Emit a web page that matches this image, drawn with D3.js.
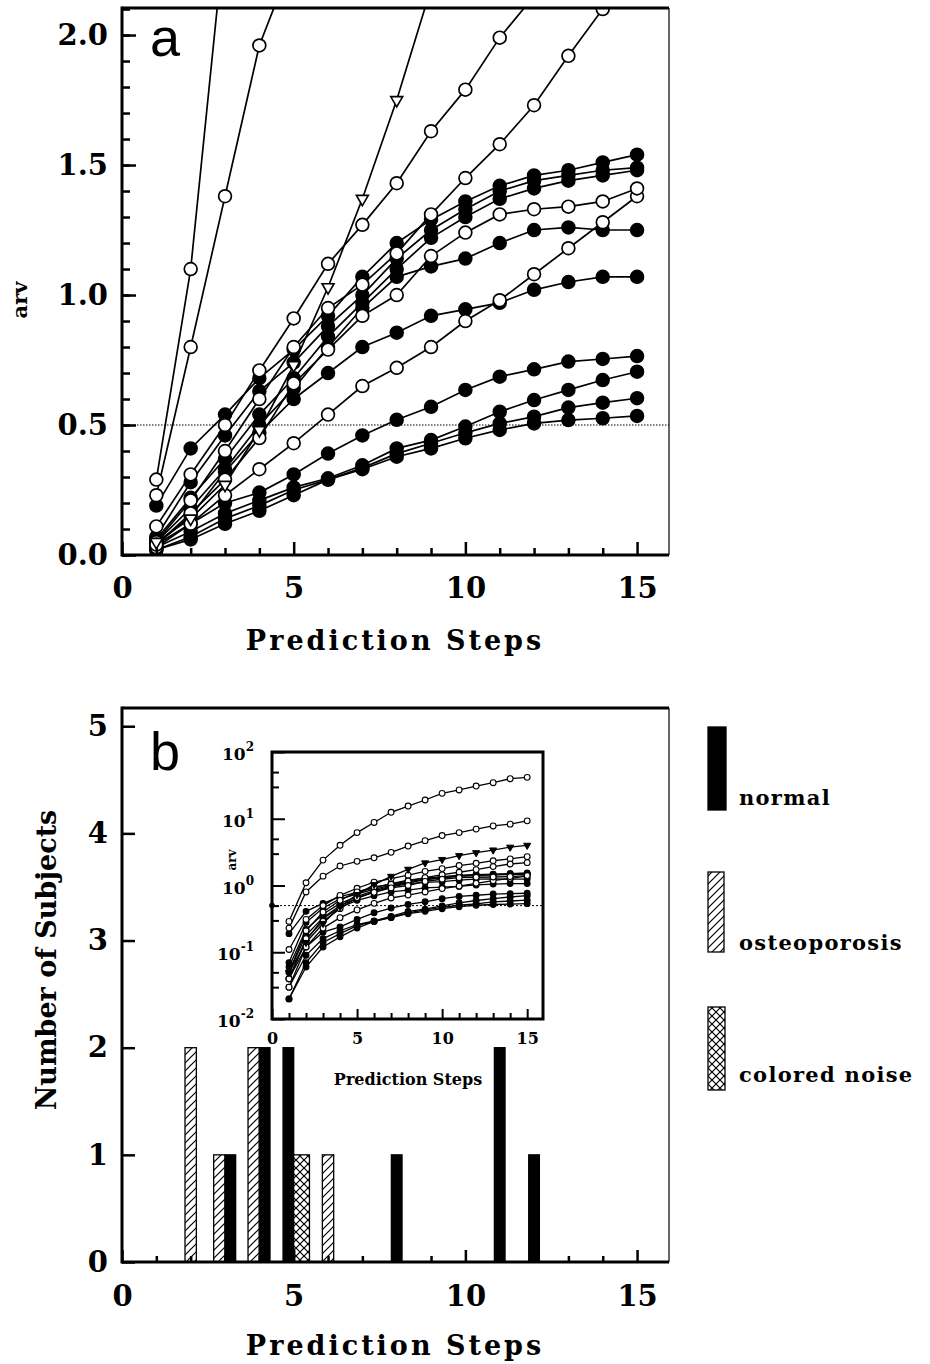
<!DOCTYPE html>
<html>
<head>
<meta charset="utf-8">
<script src="https://cdn.jsdelivr.net/npm/d3@7"></script>
<style>
    body { margin: 0; background: #fff; }
</style>
</head>
<body>
<div id="chart"></div>
<script>
const steps = d3.range(1, 16);

// normal subjects, filled circles
const normal1 = [0.19, 0.41, 0.54, 0.68, 0.79, 0.92, 1.07, 1.20, 1.29, 1.36, 1.42, 1.46, 1.48, 1.51, 1.54];
const normal2 = [0.07, 0.28, 0.46, 0.63, 0.74, 0.88, 1.00, 1.14, 1.25, 1.33, 1.40, 1.44, 1.46, 1.48, 1.49];
const normal3 = [0.06, 0.22, 0.37, 0.54, 0.68, 0.84, 0.97, 1.10, 1.22, 1.30, 1.37, 1.41, 1.44, 1.46, 1.48];
const normal4 = [0.05, 0.18, 0.33, 0.50, 0.64, 0.80, 0.95, 1.07, 1.11, 1.14, 1.20, 1.25, 1.26, 1.25, 1.25];
const normal5 = [0.04, 0.15, 0.32, 0.47, 0.60, 0.70, 0.80, 0.855, 0.92, 0.945, 0.97, 1.02, 1.05, 1.07, 1.07];
const normal6 = [0.04, 0.12, 0.20, 0.24, 0.31, 0.39, 0.46, 0.52, 0.57, 0.635, 0.686, 0.714, 0.744, 0.754, 0.765];
const normal7 = [0.03, 0.09, 0.16, 0.21, 0.26, 0.295, 0.345, 0.41, 0.442, 0.494, 0.551, 0.596, 0.635, 0.673, 0.705];
const normal8 = [0.02, 0.07, 0.14, 0.19, 0.25, 0.29, 0.335, 0.39, 0.43, 0.47, 0.506, 0.532, 0.567, 0.586, 0.603];
const normal9 = [0.02, 0.06, 0.12, 0.17, 0.23, 0.29, 0.33, 0.378, 0.41, 0.449, 0.481, 0.506, 0.519, 0.526, 0.535];

// osteoporosis, open circles
const osteo1 = [0.29, 1.10, 2.40, 4.0, 6.2, 8.8, 12.5, 15.5, 19.1, 24.0, 27.0, 30.9, 34.7, 39.8, 41.7];
const osteo2 = [0.23, 0.80, 1.38, 1.96, 2.30, 2.6, 3.14, 3.9, 4.7, 5.6, 6.2, 7.0, 7.8, 8.3, 9.3];
const osteo3 = [0.11, 0.31, 0.50, 0.71, 0.91, 1.12, 1.27, 1.43, 1.63, 1.79, 1.99, 2.15, 2.35, 2.5, 2.7];
const osteo4 = [0.05, 0.21, 0.40, 0.60, 0.80, 0.95, 1.04, 1.16, 1.31, 1.45, 1.58, 1.73, 1.92, 2.10, 2.2];
const osteo5 = [0.03, 0.12, 0.23, 0.33, 0.43, 0.54, 0.65, 0.72, 0.80, 0.90, 0.98, 1.08, 1.18, 1.28, 1.38];
const osteo6 = [0.04, 0.16, 0.29, 0.45, 0.66, 0.79, 0.92, 1.00, 1.15, 1.24, 1.31, 1.33, 1.34, 1.36, 1.41];

// colored noise, triangles
const noise1 = [0.05, 0.14, 0.27, 0.48, 0.73, 1.03, 1.37, 1.75, 2.18, 2.45, 2.8, 3.1, 3.4, 3.75, 4.0];

// histogram: number of subjects per prediction step
const histOsteo = [0, 2, 1, 2, 0, 1, 0, 0, 0, 0, 0, 0, 0, 0, 0];
const histNormal = [0, 0, 1, 2, 2, 0, 0, 1, 0, 0, 2, 1, 0, 0, 0];
const histNoise = [0, 0, 0, 0, 1, 0, 0, 0, 0, 0, 0, 0, 0, 0, 0];

const stepTicks = [0, 5, 10, 15];
const arvTicks = [0, 0.5, 1, 1.5, 2];
const subjectTicks = [0, 1, 2, 3, 4, 5];
const insetDecades = [0.01, 0.1, 1, 10, 100];
const legendLabels = ['normal', 'osteoporosis', 'colored noise'];

const serif = '"DejaVu Serif", "Liberation Serif", serif';

const series = []
    .concat(normalSeries())
    .concat([osteo1, osteo2, osteo3, osteo4, osteo5, osteo6].map(v => ({ kind: 'osteo', values: v })))
    .concat([noise1].map(v => ({ kind: 'noise', values: v })));

function normalSeries() {
    return [normal1, normal2, normal3, normal4, normal5, normal6, normal7, normal8, normal9]
        .map(v => ({ kind: 'normal', values: v }));
}

const svg = d3.select('#chart')
    .append('svg')
    .attr('width', 930)
    .attr('height', 1364)
    .style('display', 'block');

const defs = svg.append('defs');

const hatch = defs.append('pattern')
    .attr('id', 'hatch')
    .attr('patternUnits', 'userSpaceOnUse')
    .attr('width', 8).attr('height', 8);
hatch.append('rect').attr('width', 8).attr('height', 8).attr('fill', '#fff');
hatch.append('path')
    .attr('d', 'M0,8 L8,0 M-2,2 L2,-2 M6,10 L10,6')
    .attr('stroke', '#000').attr('stroke-width', 1.2);

const cross = defs.append('pattern')
    .attr('id', 'cross')
    .attr('patternUnits', 'userSpaceOnUse')
    .attr('width', 8).attr('height', 8);
cross.append('rect').attr('width', 8).attr('height', 8).attr('fill', '#fff');
cross.append('path')
    .attr('d', 'M0,0 L8,8 M0,8 L8,0')
    .attr('stroke', '#000').attr('stroke-width', 1.2);

defs.append('clipPath').attr('id', 'clipA')
    .append('rect').attr('x', 122).attr('y', 8).attr('width', 547).attr('height', 547);

function frame(g, x0, x1, y0, y1) {
    g.append('line').attr('x1', x0).attr('x2', x0).attr('y1', y0 - 1.5).attr('y2', y1 + 1.5)
        .attr('stroke', '#000').attr('stroke-width', 3);
    g.append('line').attr('x1', x0).attr('x2', x1).attr('y1', y1).attr('y2', y1)
        .attr('stroke', '#000').attr('stroke-width', 3);
    g.append('line').attr('x1', x0).attr('x2', x1).attr('y1', y0).attr('y2', y0)
        .attr('stroke', '#000').attr('stroke-width', 3);
    g.append('line').attr('x1', x1).attr('x2', x1).attr('y1', y0).attr('y2', y1)
        .attr('stroke', '#000').attr('stroke-width', 1.2);
}

function styleAxis(g, width, fontSize, weight) {
    g.select('.domain').remove();
    g.selectAll('.tick line').attr('stroke', '#000').attr('stroke-width', width);
    g.selectAll('.tick text')
        .attr('fill', '#000')
        .attr('font-family', serif)
        .attr('font-size', fontSize)
        .attr('font-weight', weight);
}

function minorTicks(max) {
    return d3.range(0, max + 0.001, 1).filter(d => d % 5 != 0);
}

function drawMarker(sel, kind, r, small) {
    sel.each(function (d) {
        const g = d3.select(this);
        if (kind == 'noise') {
            g.append('path')
                .attr('d', d3.symbol(d3.symbolTriangle).size(small ? 22 : 62)())
                .attr('transform', 'rotate(180)')
                .attr('fill', small ? '#000' : '#fff')
                .attr('stroke', '#000')
                .attr('stroke-width', small ? 1 : 1.6);
        } else {
            g.append('circle')
                .attr('r', r)
                .attr('fill', kind == 'normal' ? '#000' : '#fff')
                .attr('stroke', '#000')
                .attr('stroke-width', small ? 1.1 : 1.7);
        }
    });
}

// ---------------- panel a ----------------
function CreatePanelA() {
    const x = d3.scaleLinear().domain([0, 15.93]).range([122, 669]);
    const y = d3.scaleLinear().domain([0, 2.104]).range([555, 8]);

    const g = svg.append('g');

    g.append('line')
        .attr('x1', x(0)).attr('x2', x(15.93))
        .attr('y1', y(0.5)).attr('y2', y(0.5))
        .attr('stroke', '#000').attr('stroke-width', 1.1)
        .attr('stroke-dasharray', '1.5,1.5');

    const plot = g.append('g').attr('clip-path', 'url(#clipA)');
    const line = d3.line().x((d, i) => x(steps[i])).y(d => y(d));

    plot.selectAll('path.series')
        .data(series)
        .join('path')
        .attr('class', 'series')
        .attr('d', d => line(d.values))
        .attr('fill', 'none')
        .attr('stroke', '#000')
        .attr('stroke-width', 1.7);

    series.forEach(s => {
        plot.append('g')
            .selectAll('g')
            .data(s.values.map((v, i) => ({ step: steps[i], v: v })).filter(d => d.v < 2.3))
            .join('g')
            .attr('transform', d => `translate(${x(d.step)},${y(d.v)})`)
            .call(drawMarker, s.kind, 6.4, false);
    });

    frame(g, 122, 669, 8, 555);

    g.append('g').attr('transform', 'translate(0,555)')
        .call(d3.axisBottom(x).tickValues(minorTicks(15)).tickSize(-7).tickFormat(''))
        .call(styleAxis, 2.5, 0, 'normal');
    g.append('g').attr('transform', 'translate(0,555)')
        .call(d3.axisBottom(x).tickValues(stepTicks).tickSize(-13).tickPadding(22).tickFormat(d3.format('d')))
        .call(styleAxis, 2.5, 29, 'bold');

    g.append('g').attr('transform', 'translate(122,0)')
        .call(d3.axisLeft(y).tickValues(d3.range(0, 2.101, 0.1)).tickSize(-8).tickFormat(''))
        .call(styleAxis, 2.5, 0, 'normal');
    g.append('g').attr('transform', 'translate(122,0)')
        .call(d3.axisLeft(y).tickValues(arvTicks).tickSize(-14).tickPadding(14).tickFormat(d3.format('.1f')))
        .call(styleAxis, 2.5, 29, 'bold');

    g.append('text')
        .attr('x', 150).attr('y', 56)
        .attr('font-family', '"Liberation Sans", "DejaVu Sans", sans-serif')
        .attr('font-weight', 300)
        .attr('font-size', 54)
        .text('a');

    g.append('text')
        .attr('transform', 'translate(27,300) rotate(-90)')
        .attr('text-anchor', 'middle')
        .attr('font-family', serif).attr('font-weight', 'bold').attr('font-size', 21)
        .text('arv');

    g.append('text')
        .attr('x', 395).attr('y', 650)
        .attr('text-anchor', 'middle')
        .attr('font-family', serif).attr('font-weight', 'bold').attr('font-size', 27)
        .attr('letter-spacing', 3)
        .text('Prediction Steps');
}

// ---------------- panel b ----------------
function CreatePanelB() {
    const x = d3.scaleLinear().domain([0, 15.93]).range([122, 669]);
    const y = d3.scaleLinear().domain([0, 5.17]).range([1262, 708]);

    const g = svg.append('g');

    const cats = [
        { name: legendLabels[1], counts: histOsteo, width: 0.33, fill: 'url(#hatch)' },
        { name: legendLabels[0], counts: histNormal, width: 0.31, fill: '#000' },
        { name: legendLabels[2], counts: histNoise, width: 0.46, fill: 'url(#cross)' }
    ];

    const bars = [];
    steps.forEach((s, i) => {
        const here = cats.filter(c => c.counts[i] > 0);
        if (here.length == 1) {
            bars.push({ x0: s - here[0].width / 2, c: here[0], n: here[0].counts[i] });
        } else if (here.length == 2) {
            bars.push({ x0: s - here[0].width, c: here[0], n: here[0].counts[i] });
            bars.push({ x0: s, c: here[1], n: here[1].counts[i] });
        }
    });

    g.append('g')
        .selectAll('rect')
        .data(bars)
        .join('rect')
        .attr('x', d => x(d.x0))
        .attr('width', d => x(d.x0 + d.c.width) - x(d.x0))
        .attr('y', d => y(d.n))
        .attr('height', d => y(0) - y(d.n))
        .attr('fill', d => d.c.fill)
        .attr('stroke', '#000')
        .attr('stroke-width', 1.3);

    frame(g, 122, 669, 708, 1262);

    g.append('g').attr('transform', 'translate(0,1262)')
        .call(d3.axisBottom(x).tickValues(minorTicks(15)).tickSize(-6).tickFormat(''))
        .call(styleAxis, 2.5, 0, 'normal');
    g.append('g').attr('transform', 'translate(0,1262)')
        .call(d3.axisBottom(x).tickValues(stepTicks).tickSize(-12).tickPadding(23).tickFormat(d3.format('d')))
        .call(styleAxis, 2.5, 29, 'bold');
    g.append('g').attr('transform', 'translate(122,0)')
        .call(d3.axisLeft(y).tickValues(subjectTicks).tickSize(-13).tickPadding(14).tickFormat(d3.format('d')))
        .call(styleAxis, 2.5, 29, 'bold');

    g.append('text')
        .attr('x', 150).attr('y', 770)
        .attr('font-family', '"Liberation Sans", "DejaVu Sans", sans-serif')
        .attr('font-weight', 300)
        .attr('font-size', 54)
        .text('b');

    g.append('text')
        .attr('transform', 'translate(56,960) rotate(-90)')
        .attr('text-anchor', 'middle')
        .attr('font-family', serif).attr('font-weight', 'bold').attr('font-size', 27)
        .text('Number of Subjects');

    g.append('text')
        .attr('x', 395).attr('y', 1355)
        .attr('text-anchor', 'middle')
        .attr('font-family', serif).attr('font-weight', 'bold').attr('font-size', 27)
        .attr('letter-spacing', 3)
        .text('Prediction Steps');

    // legend
    const legend = [
        { label: legendLabels[0], fill: '#000', x: 708, y: 727, w: 18, h: 83, ty: 805 },
        { label: legendLabels[1], fill: 'url(#hatch)', x: 708, y: 872, w: 16, h: 80, ty: 950 },
        { label: legendLabels[2], fill: 'url(#cross)', x: 708, y: 1007, w: 17, h: 83, ty: 1082 }
    ];
    const lg = g.append('g').selectAll('g').data(legend).join('g');
    lg.append('rect')
        .attr('x', d => d.x).attr('y', d => d.y)
        .attr('width', d => d.w).attr('height', d => d.h)
        .attr('fill', d => d.fill)
        .attr('stroke', '#000').attr('stroke-width', 1.3);
    lg.append('text')
        .attr('x', 739).attr('y', d => d.ty)
        .attr('font-family', serif).attr('font-weight', 'bold').attr('font-size', 21)
        .attr('letter-spacing', 1.3)
        .text(d => d.label);
}

// ---------------- inset ----------------
function CreateInset() {
    const x = d3.scaleLinear().domain([0, 15.93]).range([272, 543]);
    const y = d3.scaleLog().domain([0.01, 100]).range([1019, 752]);

    const g = svg.append('g');

    g.append('rect')
        .attr('x', 272).attr('y', 752).attr('width', 271).attr('height', 267)
        .attr('fill', '#fff');

    g.append('line')
        .attr('x1', x(0)).attr('x2', x(15.93))
        .attr('y1', y(0.5)).attr('y2', y(0.5))
        .attr('stroke', '#000').attr('stroke-width', 1)
        .attr('stroke-dasharray', '2,2');
    g.append('circle')
        .attr('cx', x(0)).attr('cy', y(0.5)).attr('r', 2.8).attr('fill', '#000');

    const line = d3.line().x((d, i) => x(steps[i])).y(d => y(d));
    g.append('g')
        .selectAll('path')
        .data(series)
        .join('path')
        .attr('d', d => line(d.values))
        .attr('fill', 'none')
        .attr('stroke', '#000')
        .attr('stroke-width', 1.3);

    series.forEach(s => {
        g.append('g')
            .selectAll('g')
            .data(s.values.map((v, i) => ({ step: steps[i], v: v })))
            .join('g')
            .attr('transform', d => `translate(${x(d.step)},${y(d.v)})`)
            .call(drawMarker, s.kind, 2.9, true);
    });

    g.append('rect')
        .attr('x', 272).attr('y', 752).attr('width', 271).attr('height', 267)
        .attr('fill', 'none').attr('stroke', '#000').attr('stroke-width', 3);

    g.append('g').attr('transform', 'translate(0,1019)')
        .call(d3.axisBottom(x).tickValues(minorTicks(15)).tickSize(-6).tickFormat(''))
        .call(styleAxis, 2, 0, 'normal');
    g.append('g').attr('transform', 'translate(0,1019)')
        .call(d3.axisBottom(x).tickValues(stepTicks).tickSize(-10).tickPadding(14).tickFormat(d3.format('d')))
        .call(styleAxis, 2, 16, 'bold');

    const minor = [];
    insetDecades.slice(0, -1).forEach(d => { minor.push(d * 3); minor.push(d * 5); });
    g.append('g').attr('transform', 'translate(272,0)')
        .call(d3.axisLeft(y).tickValues(minor).tickSize(-7).tickFormat(''))
        .call(styleAxis, 2, 0, 'normal');
    g.append('g').attr('transform', 'translate(272,0)')
        .call(d3.axisLeft(y).tickValues(insetDecades).tickSize(-13).tickFormat(''))
        .call(styleAxis, 2, 0, 'normal');

    const lab = g.append('g')
        .selectAll('text')
        .data(insetDecades)
        .join('text')
        .attr('x', 254)
        .attr('y', d => y(d) + 8)
        .attr('text-anchor', 'end')
        .attr('font-family', serif).attr('font-weight', 'bold').attr('font-size', 17);
    lab.append('tspan').text('10');
    lab.append('tspan')
        .attr('dy', -9).attr('font-size', 12)
        .text(d => Math.round(Math.log10(d)));

    g.append('text')
        .attr('transform', 'translate(236,860) rotate(-90)')
        .attr('text-anchor', 'middle')
        .attr('font-family', serif).attr('font-weight', 'bold').attr('font-size', 12)
        .text('arv');

    g.append('text')
        .attr('x', 408).attr('y', 1085)
        .attr('text-anchor', 'middle')
        .attr('font-family', serif).attr('font-weight', 'bold').attr('font-size', 16)
        .text('Prediction Steps');
}

CreatePanelA();
CreatePanelB();
CreateInset();
</script>
</body>
</html>
